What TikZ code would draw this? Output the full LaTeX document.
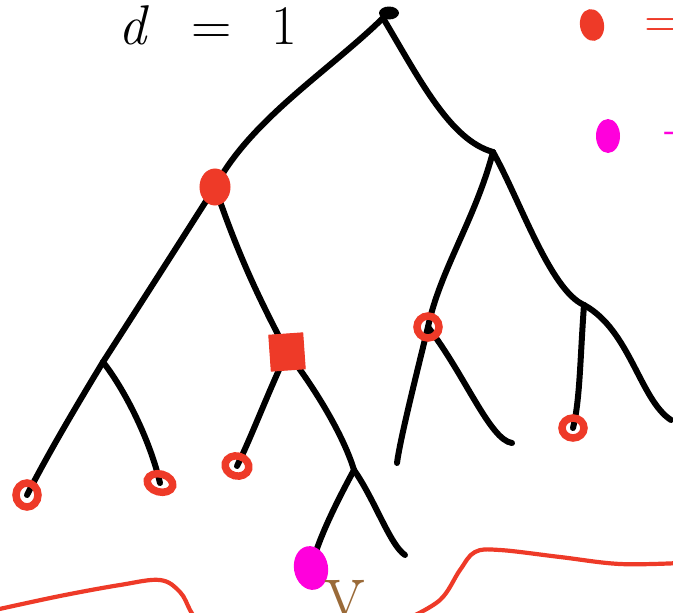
\documentclass[tikz,border=0pt]{standalone}
\usetikzlibrary{shapes.geometric}
\definecolor{penred}{HTML}{EE3A28}
\definecolor{penmag}{HTML}{FF00DC}
\definecolor{penbrown}{HTML}{9A6A38}
\tikzset{
  edge/.style={black, line width=6pt, line cap=round, line join=round},
  redfill/.style={fill=penred, draw=penred, line width=1pt},
  redring/.style={draw=penred, line width=7.5pt},
  redline/.style={draw=penred, line width=4.2pt, line cap=round},
  bigtext/.style={font=\fontsize{56}{56}\selectfont},
}
\begin{document}
\begin{tikzpicture}[x=1pt,y=-1pt]
\useasboundingbox (0,0) rectangle (673,613);
\clip (0,0) rectangle (673,613);
% named points
\coordinate (root) at (383,18);
\coordinate (A) at (215,187);
\coordinate (J1) at (103,362);
\coordinate (L1) at (27,495);
\coordinate (L2) at (160,483);
\coordinate (B) at (287,352);
\coordinate (L3) at (237,466);
\coordinate (J2) at (354,470);
\coordinate (M) at (311,568);
\coordinate (E1) at (405,555);
\coordinate (R) at (493,152);
\coordinate (C) at (428,327);
\coordinate (E2) at (397,463);
\coordinate (E3) at (512,443);
\coordinate (J3) at (584,305);
\coordinate (L4) at (573,428);
\coordinate (E4) at (671,420);
% edges
\draw[edge] (root) .. controls (330,70) and (250,120) .. (A);
\draw[edge] (root) .. controls (420,80) and (450,140) .. (R);
\draw[edge] (A) .. controls (175,250) and (130,320) .. (J1);
\draw[edge] (J1) .. controls (80,400) and (50,450) .. (L1);
\draw[edge] (J1) .. controls (125,390) and (150,440) .. (L2);
\draw[edge] (A) .. controls (240,260) and (260,300) .. (B);
\draw[edge] (B) .. controls (265,400) and (250,440) .. (L3);
\draw[edge] (B) .. controls (320,395) and (345,440) .. (J2);
\draw[edge] (J2) .. controls (335,505) and (318,540) .. (M);
\draw[edge] (J2) .. controls (375,500) and (390,545) .. (E1);
\draw[edge] (R) .. controls (475,220) and (440,270) .. (C);
\draw[edge] (R) .. controls (520,200) and (550,290) .. (J3);
\draw[edge] (C) .. controls (415,380) and (400,440) .. (E2);
\draw[edge] (C) .. controls (465,375) and (490,440) .. (E3);
\draw[edge] (J3) .. controls (580,360) and (580,400) .. (L4);
\draw[edge] (J3) .. controls (630,330) and (640,400) .. (E4);
% root blob
\node[ellipse, fill=black, minimum width=20pt, minimum height=13pt, inner sep=0pt] (rootblob) at (389,13) {};
% red nodes
\node[ellipse, redfill, minimum width=30pt, minimum height=36pt, inner sep=0pt] (An) at (A) {};
\node[rectangle, redfill, minimum width=34pt, minimum height=36pt, inner sep=0pt, rotate=4] (Bn) at (B) {};
\node[ellipse, redring, minimum width=22pt, minimum height=22pt, inner sep=0pt] (Cn) at (C) {};
\node[ellipse, redring, minimum width=22pt, minimum height=24pt, inner sep=0pt] (L1n) at (L1) {};
\node[ellipse, redring, minimum width=26pt, minimum height=18pt, inner sep=0pt, rotate=-15] (L2n) at (L2) {};
\node[ellipse, redring, minimum width=24pt, minimum height=20pt, inner sep=0pt, rotate=-15] (L3n) at (L3) {};
\node[ellipse, redring, minimum width=22pt, minimum height=20pt, inner sep=0pt] (L4n) at (L4) {};
\node[ellipse, fill=penmag, minimum width=34pt, minimum height=44pt, inner sep=0pt, rotate=10] (Mn) at (M) {};
% text
\node[bigtext, anchor=base west, inner sep=0pt] (dtext) at (118,44) {\textit{d}\hspace{42pt}=\hspace{40pt}1};
% legend
\node[ellipse, fill=penred, minimum width=24pt, minimum height=32pt, inner sep=0pt, rotate=10] (legred) at (592,25) {};
\node[ellipse, fill=penmag, minimum width=24pt, minimum height=34pt, inner sep=0pt] (legmag) at (608,136) {};
\node[bigtext, text=penred, anchor=base west, inner sep=0pt] (legeq) at (644,38) {=};
\node[bigtext, text=penmag, anchor=base west, inner sep=0pt] (legdash) at (664,145) {-};
% brown v
\node[text=penbrown, font=\fontsize{84}{84}\selectfont, anchor=base, inner sep=0pt] (vtext) at (345,616) {v};
% red curves
\draw[redline] plot[smooth, tension=0.6] coordinates {(-5,610) (60,596) (120,585) (160,580) (180,592) (190,610) (196,620)};
\draw[redline] plot[smooth, tension=0.6] coordinates {(405,620) (440,600) (460,570) (475,552) (500,550) (560,557) (620,564) (680,563)};
\end{tikzpicture}
\end{document}
